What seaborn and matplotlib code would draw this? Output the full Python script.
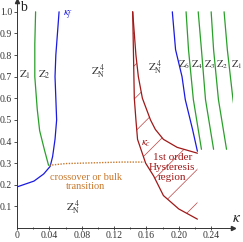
import numpy as np
import matplotlib
matplotlib.use("Agg")
import matplotlib.pyplot as plt
import seaborn as sns

# boundary curves (kappa, b)
green_left_k = [0.023, 0.022, 0.022, 0.025, 0.028, 0.034, 0.039]
green_left_b = [1.0, 0.85, 0.70, 0.55, 0.45, 0.36, 0.29]

kf_left_k = [0.0, 0.021, 0.033, 0.041, 0.044, 0.047, 0.049, 0.048, 0.047, 0.048, 0.050, 0.052]
kf_left_b = [0.19, 0.217, 0.25, 0.285, 0.33, 0.41, 0.50, 0.60, 0.70, 0.80, 0.90, 1.0]

cross_k = [0.040, 0.060, 0.100, 0.130, 0.157]
cross_b = [0.29, 0.298, 0.302, 0.305, 0.305]

kc_k = [0.143, 0.144, 0.145, 0.147, 0.149, 0.159, 0.169, 0.181, 0.200, 0.223]
kc_b = [1.0, 0.80, 0.60, 0.50, 0.41, 0.30, 0.24, 0.15, 0.088, 0.041]

hyst_k = [0.143, 0.147, 0.150, 0.155, 0.165, 0.171, 0.181, 0.198, 0.223]
hyst_b = [1.0, 0.80, 0.70, 0.60, 0.50, 0.456, 0.41, 0.373, 0.346]

kf_right_k = [0.192, 0.196, 0.204, 0.208, 0.217, 0.223]
kf_right_b = [1.0, 0.825, 0.70, 0.594, 0.456, 0.355]

green_b = [1.0, 0.825, 0.594, 0.364]
green_right_k = [
    [0.209, 0.212, 0.218, 0.228],
    [0.224, 0.228, 0.233, 0.243],
    [0.240, 0.243, 0.249, 0.259],
    [0.256, 0.260, 0.267, 0.276],
]
right_labels = ["6", "4", "3", "2", "1"]
right_label_k = [0.206, 0.222, 0.238, 0.254, 0.271]

x_ticks = [0, 0.04, 0.08, 0.12, 0.16, 0.20, 0.24]
x_tick_labels = ["0", "0.04", "0.08", "0.12", "0.16", "0.20", "0.24"]
y_ticks = [0.1, 0.2, 0.3, 0.4, 0.5, 0.6, 0.7, 0.8, 0.9, 1.0]
y_tick_labels = ["0.1", "0.2", "0.3", "0.4", "0.5", "0.6", "0.7", "0.8", "0.9", "1.0"]

green = "#2aa02a"
blue = "#1a1ae0"
red = "#a01818"
orange = "#c8782c"

sns.set_style("white")
plt.rcParams["font.family"] = ["Liberation Serif", "DejaVu Serif"]
plt.rcParams["mathtext.fontset"] = "stix"
plt.rcParams["hatch.color"] = "#c04040"
plt.rcParams["hatch.linewidth"] = 0.5

fig = plt.figure(figsize=(2.43, 2.42), dpi=100)
ax = fig.add_axes([17 / 243, 14 / 242, 216 / 243, 227 / 242])

def curve(k, b, color, **kw):
    sns.lineplot(x=k, y=b, sort=False, estimator=None, color=color, ax=ax,
                 legend=False, **kw)

curve(green_left_k, green_left_b, green, lw=0.9)
curve(kf_left_k, kf_left_b, blue, lw=0.9)
curve(cross_k, cross_b, orange, lw=1.0, linestyle=(0, (1, 1)))
curve(kc_k, kc_b, red, lw=0.9)
curve(hyst_k, hyst_b, red, lw=0.9)
curve(kf_right_k, kf_right_b, blue, lw=0.9)
for gk in green_right_k:
    curve(gk, green_b, green, lw=0.9)

# hatched hysteresis region between the two red curves
poly_k = kc_k + hyst_k[::-1]
poly_b = kc_b + hyst_b[::-1]
ax.fill(poly_k, poly_b, facecolor="none", edgecolor="#c04040", hatch="/", lw=0)

ax.set_xlim(0, 0.267)
ax.set_ylim(0, 1.05)
ax.set_xticks(x_ticks)
ax.set_xticklabels(x_tick_labels)
ax.set_xticks(np.arange(0.02, 0.26, 0.04), minor=True)
ax.set_yticks(y_ticks)
ax.set_yticklabels(y_tick_labels)
ax.tick_params(axis="both", which="both", direction="out", length=2.5, width=0.6,
               labelsize=7, pad=1, left=True, bottom=True, colors="#333333")
ax.tick_params(axis="x", which="both", direction="inout", length=3, pad=0.5)
ax.tick_params(axis="x", which="minor", length=2)
for s in ["top", "right"]:
    ax.spines[s].set_visible(False)
for s in ["left", "bottom"]:
    ax.spines[s].set_color("#333333")
    ax.spines[s].set_linewidth(0.7)
ax.plot(1, 0, ">", color="#333333", ms=3, transform=ax.transAxes, clip_on=False)
ax.plot(0, 1, "^", color="#333333", ms=3, transform=ax.transAxes, clip_on=False)
ax.text(0.008, 1.048, "b", fontsize=10, ha="center", va="top", color="#222222")
ax.text(0.272, 0.045, r"$\kappa$", fontsize=11, ha="center", va="center", color="#222222")

zn = r"$\mathrm{Z}_\mathrm{N}^{\;4}$"
tk = dict(fontsize=8, color="#333333", ha="center", va="center")
ax.text(0.010, 0.71, r"$\mathrm{Z}_1$", **tk)
ax.text(0.034, 0.71, r"$\mathrm{Z}_2$", **tk)
ax.text(0.101, 0.72, zn, **tk)
ax.text(0.171, 0.74, zn, **tk)
ax.text(0.070, 0.092, zn, **tk)
for lab, lk in zip(right_labels, right_label_k):
    ax.text(lk, 0.755, r"$\mathrm{Z}_{%s}$" % lab, fontsize=7.5, color="#333333",
            ha="center", va="center")

ax.text(0.063, 0.985, r"$\kappa_f$", fontsize=8, color=blue, ha="center", va="center")
ax.text(0.159, 0.39, r"$\kappa_c$", fontsize=8, color=red, ha="center", va="center")
ax.text(0.192, 0.28, "1st order\nHysteresis\nregion", fontsize=8, color=red,
        ha="center", va="center", linespacing=1.1)
ax.text(0.085, 0.213, "crossover or bulk\ntransition", fontsize=7.5, color=orange,
        ha="center", va="center", linespacing=1.1)

fig.savefig("out.png", dpi=100)
